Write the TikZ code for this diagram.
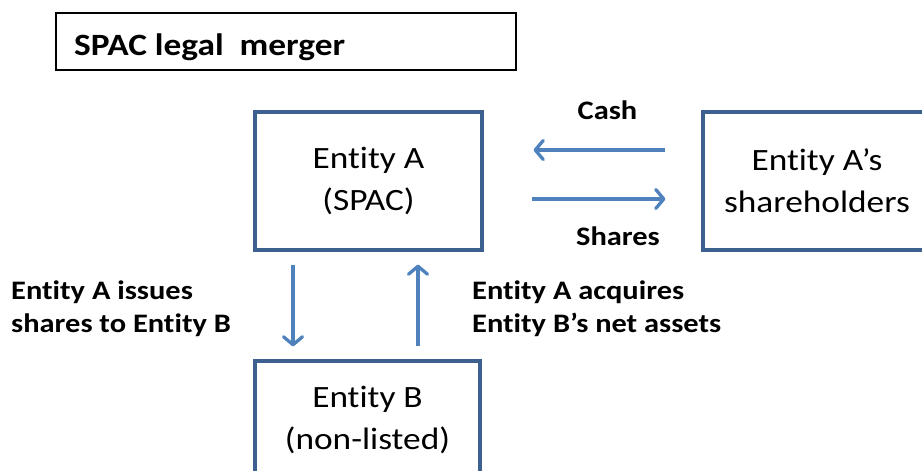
\documentclass[tikz,border=0pt]{standalone}
\usepackage{fontspec}
\setmainfont[Ligatures=NoCommon, FakeStretch=1.14]{Carlito}
\usetikzlibrary{arrows.meta}
\definecolor{boxline}{HTML}{3C6190}
\definecolor{flowblue}{HTML}{4F81BD}
\tikzset{
  entity/.style={draw=boxline, line width=3.2pt, align=center, inner sep=0pt,
    font=\fontsize{31}{42}\selectfont},
  titlebox/.style={draw=black, line width=1.3pt, inner sep=0pt,
    minimum width=460pt, minimum height=57pt},
  flow/.style={draw=flowblue, line width=3.3pt,
    -{Straight Barb[length=8pt,width=19pt,line cap=round,line join=round]}},
  tag/.style={font=\bfseries\fontsize{26.7}{32.5}\selectfont, inner sep=0pt, align=left}
}
\begin{document}
\begin{tikzpicture}[x=1pt,y=-1pt]
\useasboundingbox (0,0) rectangle (922,471);

% heading
\node[titlebox] (title) at (286,41.5) {};
\node[anchor=base west, inner sep=0pt, font=\bfseries\fontsize{31}{37}\selectfont]
  (titletext) at (74,55) {SPAC legal\ \ merger};

% parties
\node[entity, minimum width=227pt, minimum height=138pt] (A) at (368.5,181)
  {Entity A\\(SPAC)};
\node[entity, minimum width=228pt, minimum height=138pt] (S) at (817,181)
  {Entity A’s\\shareholders};
\node[entity, minimum width=225pt, minimum height=118pt] (B) at (367.5,420)
  {Entity B\\(non-listed)};

% flows between Entity A and its shareholders
\draw[flow, shorten <=36pt, shorten >=50pt]
  ([yshift=31pt]S.west) -- ([yshift=31pt]A.east);
\draw[flow, shorten <=48pt, shorten >=36pt]
  ([yshift=-18pt]A.east) -- ([yshift=-18pt]S.west);

% flows between Entity A and Entity B
\draw[flow, shorten <=13pt, shorten >=13pt]
  ([xshift=-75.5pt]A.south) -- ([xshift=-74.5pt]B.north);
\draw[flow, shorten <=13pt, shorten >=13pt]
  ([xshift=50.5pt]B.north) -- ([xshift=49.5pt]A.south);

% labels
\node[tag, anchor=base] (cash) at (607.5,119) {Cash};
\node[tag, anchor=base] (shares) at (618,245) {Shares};
\node[tag, anchor=north west] (issues) at (11,281) {Entity A issues\\shares to Entity B};
\node[tag, anchor=north west] (acquires) at (472,281) {Entity A acquires\\Entity B’s net assets};
\end{tikzpicture}
\end{document}
